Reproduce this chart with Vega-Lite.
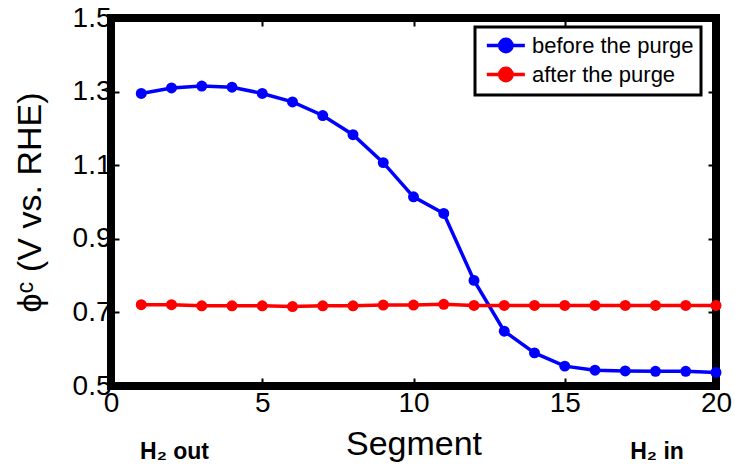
{
  "$schema": "https://vega.github.io/schema/vega-lite/v6.json",
  "width": 605,
  "height": 368,
  "autosize": {"type": "none"},
  "padding": {"left": 111, "top": 18, "right": 19, "bottom": 82},
  "background": "white",
  "config": {
    "font": "Liberation Sans",
    "view": {"stroke": "black", "strokeWidth": 8},
    "axis": {
      "grid": false,
      "domain": false,
      "tickColor": "black",
      "tickWidth": 2,
      "tickSize": -8,
      "labelFlush": false,
      "labelColor": "black",
      "titleColor": "black",
      "labelFont": "Liberation Sans",
      "titleFont": "Liberation Sans",
      "titleFontWeight": "normal"
    }
  },
  "datasets": {
    "curves": [
      {"segment": 1, "phi": 1.295, "series": "before the purge"},
      {"segment": 2, "phi": 1.310, "series": "before the purge"},
      {"segment": 3, "phi": 1.315, "series": "before the purge"},
      {"segment": 4, "phi": 1.312, "series": "before the purge"},
      {"segment": 5, "phi": 1.295, "series": "before the purge"},
      {"segment": 6, "phi": 1.272, "series": "before the purge"},
      {"segment": 7, "phi": 1.235, "series": "before the purge"},
      {"segment": 8, "phi": 1.183, "series": "before the purge"},
      {"segment": 9, "phi": 1.107, "series": "before the purge"},
      {"segment": 10, "phi": 1.014, "series": "before the purge"},
      {"segment": 11, "phi": 0.969, "series": "before the purge"},
      {"segment": 12, "phi": 0.787, "series": "before the purge"},
      {"segment": 13, "phi": 0.649, "series": "before the purge"},
      {"segment": 14, "phi": 0.590, "series": "before the purge"},
      {"segment": 15, "phi": 0.554, "series": "before the purge"},
      {"segment": 16, "phi": 0.543, "series": "before the purge"},
      {"segment": 17, "phi": 0.541, "series": "before the purge"},
      {"segment": 18, "phi": 0.540, "series": "before the purge"},
      {"segment": 19, "phi": 0.540, "series": "before the purge"},
      {"segment": 20, "phi": 0.537, "series": "before the purge"},
      {"segment": 1, "phi": 0.721, "series": "after the purge"},
      {"segment": 2, "phi": 0.721, "series": "after the purge"},
      {"segment": 3, "phi": 0.718, "series": "after the purge"},
      {"segment": 4, "phi": 0.718, "series": "after the purge"},
      {"segment": 5, "phi": 0.718, "series": "after the purge"},
      {"segment": 6, "phi": 0.716, "series": "after the purge"},
      {"segment": 7, "phi": 0.718, "series": "after the purge"},
      {"segment": 8, "phi": 0.718, "series": "after the purge"},
      {"segment": 9, "phi": 0.720, "series": "after the purge"},
      {"segment": 10, "phi": 0.720, "series": "after the purge"},
      {"segment": 11, "phi": 0.722, "series": "after the purge"},
      {"segment": 12, "phi": 0.719, "series": "after the purge"},
      {"segment": 13, "phi": 0.719, "series": "after the purge"},
      {"segment": 14, "phi": 0.719, "series": "after the purge"},
      {"segment": 15, "phi": 0.719, "series": "after the purge"},
      {"segment": 16, "phi": 0.719, "series": "after the purge"},
      {"segment": 17, "phi": 0.719, "series": "after the purge"},
      {"segment": 18, "phi": 0.719, "series": "after the purge"},
      {"segment": 19, "phi": 0.719, "series": "after the purge"},
      {"segment": 20, "phi": 0.719, "series": "after the purge"}
    ],
    "notes": [
      {"note": "H₂ out", "end": "outlet"},
      {"note": "H₂ in", "end": "inlet"}
    ]
  },
  "layer": [
    {
      "data": {"name": "curves"},
      "mark": {"type": "line", "strokeWidth": 3.5, "point": {"filled": true, "size": 120, "opacity": 1}},
      "encoding": {
        "x": {
          "field": "segment",
          "type": "quantitative",
          "scale": {"domain": [0, 20], "nice": false},
          "axis": {
            "orient": "bottom",
            "values": [0, 5, 10, 15, 20],
            "labelFontSize": 28,
            "labelPadding": 11,
            "title": "Segment",
            "titleFontSize": 34,
            "titlePadding": 10
          }
        },
        "y": {
          "field": "phi",
          "type": "quantitative",
          "scale": {"domain": [0.5, 1.5], "nice": false, "zero": false},
          "axis": {
            "orient": "left",
            "values": [0.5, 0.7, 0.9, 1.1, 1.3, 1.5],
            "format": ".1f",
            "labelFontSize": 28,
            "labelPadding": 8,
            "title": "ϕᶜ (V vs. RHE)",
            "titleFontSize": 34,
            "titlePadding": 25
          }
        },
        "color": {
          "field": "series",
          "type": "nominal",
          "scale": {"domain": ["before the purge", "after the purge"], "range": ["#0000ff", "#ff0000"]},
          "legend": {
            "title": null,
            "orient": "none",
            "legendX": 364,
            "legendY": 9,
            "strokeColor": "black",
            "fillColor": "white",
            "padding": 7,
            "rowPadding": 2,
            "labelFontSize": 22,
            "labelFont": "Liberation Sans",
            "labelColor": "black",
            "labelLimit": 400,
            "labelOffset": 27,
            "symbolType": "M-0.7,0H3.3M0.65,0A0.65,0.65,0,1,1,1.95,0A0.65,0.65,0,1,1,0.65,0Z",
            "symbolSize": 361,
            "symbolStrokeWidth": 3.5,
            "encode": {
              "legend": {"update": {"strokeWidth": {"value": 3}}},
              "symbols": {"update": {"fill": {"scale": "color", "field": "value"}, "opacity": {"value": 1}}}
            }
          }
        }
      }
    },
    {
      "data": {"name": "curves"},
      "mark": {"type": "point", "opacity": 0},
      "encoding": {
        "x": {
          "field": "segment",
          "type": "quantitative",
          "axis": {"orient": "top", "values": [0, 5, 10, 15, 20], "labels": false, "title": null}
        },
        "y": {
          "field": "phi",
          "type": "quantitative",
          "axis": {"orient": "right", "values": [0.5, 0.7, 0.9, 1.1, 1.3, 1.5], "labels": false, "title": null}
        }
      }
    },
    {
      "data": {"name": "notes"},
      "transform": [{"filter": "datum.end === 'outlet'"}],
      "mark": {"type": "text", "fontSize": 23, "fontWeight": "bold", "font": "Liberation Sans", "color": "black"},
      "encoding": {
        "x": {"datum": 2.1, "type": "quantitative", "axis": null},
        "y": {"datum": 0.32, "type": "quantitative", "axis": null},
        "text": {"field": "note"}
      }
    },
    {
      "data": {"name": "notes"},
      "transform": [{"filter": "datum.end === 'inlet'"}],
      "mark": {"type": "text", "fontSize": 23, "fontWeight": "bold", "font": "Liberation Sans", "color": "black"},
      "encoding": {
        "x": {"datum": 18.05, "type": "quantitative", "axis": null},
        "y": {"datum": 0.32, "type": "quantitative", "axis": null},
        "text": {"field": "note"}
      }
    }
  ],
  "resolve": {"axis": {"x": "independent", "y": "independent"}}
}
